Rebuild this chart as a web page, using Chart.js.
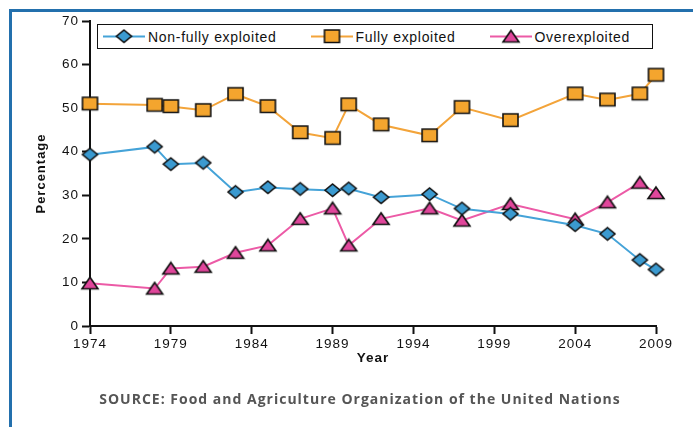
<!DOCTYPE html>
<html>
<head>
<meta charset="utf-8">
<script src="https://cdn.jsdelivr.net/npm/chart.js@4/dist/chart.umd.min.js"></script>
<style>
  html, body { margin: 0; padding: 0; background: #fff; }
  #marco { position: relative; width: 693px; height: 427px; overflow: hidden; }
  #marco::before {
    content: ""; position: absolute; left: 9px; top: 9px; right: -10px; bottom: -10px;
    border-top: 3px solid #2370ad; border-left: 3px solid #2370ad;
  }
  #grafico { position: absolute; left: 0; top: 0; }
  #leyenda {
    position: absolute; left: 97px; top: 24px; width: 556px; height: 25px;
    box-sizing: border-box; border: 1.5px solid #111; background: #fff;
    display: flex; align-items: center; justify-content: space-between;
    padding: 0 22px 0 5px;
    font-family: "Liberation Sans", Arial, sans-serif; font-size: 14px;
    letter-spacing: 0.7px; color: #111;
  }
  .item { display: flex; align-items: center; gap: 3px; white-space: nowrap; }
  #fuente {
    position: absolute; left: 0; width: 720px; top: 389px; text-align: center;
    font-family: "Open Sans", sans-serif; font-weight: bold; font-size: 14px;
    letter-spacing: 1px; color: #555;
  }
</style>
</head>
<body>
<div id="marco">
  <canvas id="grafico" width="693" height="427"></canvas>
  <div id="leyenda"></div>
  <div id="fuente">SOURCE: Food and Agriculture Organization of the United Nations</div>
</div>
<script>
// Datos
const anios = [1974, 1978, 1979, 1981, 1983, 1985, 1987, 1989, 1990, 1992, 1995, 1997, 2000, 2004, 2006, 2008, 2009];
const noPlenamente = [39.3, 41.1, 37.1, 37.4, 30.7, 31.8, 31.4, 31.1, 31.5, 29.5, 30.2, 26.9, 25.7, 23.1, 21.1, 15.1, 12.9];
const plenamente = [51.0, 50.7, 50.4, 49.5, 53.2, 50.4, 44.4, 43.1, 50.8, 46.2, 43.7, 50.2, 47.2, 53.3, 51.9, 53.3, 57.6];
const sobreexplotado = [9.8, 8.6, 13.2, 13.6, 16.8, 18.5, 24.6, 27.0, 18.5, 24.6, 27.0, 24.2, 28.0, 24.5, 28.4, 32.9, 30.5];
const nombresSeries = ["Non-fully exploited", "Fully exploited", "Overexploited"];
const ticksX = [1974, 1979, 1984, 1989, 1994, 1999, 2004, 2009];

document.addEventListener("DOMContentLoaded", () => {
  const tinta = "#111";

  // Los marcadores del original son algo más anchos que altos
  const estilos = [
    { linea: "#45a3d8", relleno: "#3b9ad0", forma: "rombo", ancho: 15, alto: 12.5 },
    { linea: "#f3a43a", relleno: "#f4a52e", forma: "cuadro", ancho: 15, alto: 12.5 },
    { linea: "#ec5aa6", relleno: "#e0469b", forma: "triangulo", ancho: 16, alto: 11.5 }
  ];

  function trazarForma(ctx, forma, x0, y0, w, h) {
    ctx.beginPath();
    if (forma === "rombo") {
      ctx.moveTo(x0 + w / 2, y0);
      ctx.lineTo(x0 + w, y0 + h / 2);
      ctx.lineTo(x0 + w / 2, y0 + h);
      ctx.lineTo(x0, y0 + h / 2);
    } else if (forma === "cuadro") {
      ctx.rect(x0, y0, w, h);
    } else {
      ctx.moveTo(x0 + w / 2, y0);
      ctx.lineTo(x0 + w, y0 + h);
      ctx.lineTo(x0, y0 + h);
    }
    ctx.closePath();
  }

  function crearMarcador(est) {
    const m = 2;
    const c = document.createElement("canvas");
    c.width = Math.ceil(est.ancho + m * 2);
    c.height = Math.ceil(est.alto + m * 2);
    const ctx = c.getContext("2d");
    trazarForma(ctx, est.forma, m, m, est.ancho, est.alto);
    ctx.fillStyle = est.relleno;
    ctx.fill();
    ctx.lineWidth = 1.6;
    ctx.strokeStyle = tinta;
    ctx.lineJoin = "miter";
    ctx.stroke();
    return c;
  }

  const valores = [noPlenamente, plenamente, sobreexplotado];

  const datasets = valores.map((serie, i) => ({
    label: nombresSeries[i],
    data: serie.map((v, j) => ({ x: anios[j], y: v })),
    borderColor: estilos[i].linea,
    borderWidth: 2,
    pointStyle: crearMarcador(estilos[i]),
    pointRadius: 8,
    pointHoverRadius: 8,
    clip: false,
    tension: 0
  }));

  // Espaciado de letras en el canvas (la fuente original es más ancha)
  const espaciado = {
    id: "espaciado",
    beforeInit(chart) { chart.ctx.letterSpacing = "1px"; },
    beforeDraw(chart) { chart.ctx.letterSpacing = "1px"; }
  };

  new Chart(document.getElementById("grafico"), {
    type: "line",
    data: { datasets },
    options: {
      responsive: false,
      devicePixelRatio: 1,
      animation: false,
      events: [],
      layout: { padding: { left: 10, right: 37, top: 21, bottom: 51 } },
      plugins: { legend: { display: false }, tooltip: { enabled: false } },
      scales: {
        x: {
          type: "linear",
          min: 1974,
          max: 2009,
          afterBuildTicks: (s) => { s.ticks = ticksX.map(v => ({ value: v })); },
          afterFit: (s) => { s.height = 50; },
          ticks: {
            callback: (v) => String(v),
            color: tinta,
            padding: 2,
            maxRotation: 0,
            font: { family: "Liberation Sans", size: 13.5 }
          },
          grid: { drawOnChartArea: false, drawTicks: true, tickLength: 8, tickColor: tinta, tickWidth: 2 },
          border: { color: tinta, width: 2 },
          title: {
            display: true,
            text: "Year",
            color: tinta,
            padding: { top: 0, bottom: 10 },
            font: { family: "Liberation Sans", size: 13.5, weight: "bold" }
          }
        },
        y: {
          min: 0,
          max: 70,
          afterFit: (s) => { s.width = 80; },
          ticks: {
            stepSize: 10,
            color: tinta,
            padding: 3,
            font: { family: "Liberation Sans", size: 13.5 }
          },
          grid: { drawOnChartArea: false, drawTicks: true, tickLength: 8, tickColor: tinta, tickWidth: 2 },
          border: { color: tinta, width: 2 },
          title: {
            display: true,
            text: "Percentage",
            color: tinta,
            padding: { top: 24, bottom: 0 },
            font: { family: "Liberation Sans", size: 13, weight: "bold" }
          }
        }
      }
    },
    plugins: [espaciado]
  });

  // Leyenda en HTML con línea y el mismo marcador
  const leyenda = document.getElementById("leyenda");
  nombresSeries.forEach((nombre, i) => {
    const item = document.createElement("div");
    item.className = "item";

    const icono = document.createElement("canvas");
    icono.width = 42;
    icono.height = 23;
    const ctx = icono.getContext("2d");
    ctx.strokeStyle = estilos[i].linea;
    ctx.lineWidth = 2;
    ctx.beginPath();
    ctx.moveTo(0, 11.5);
    ctx.lineTo(42, 11.5);
    ctx.stroke();
    const marcador = crearMarcador(estilos[i]);
    ctx.drawImage(marcador, 21 - marcador.width / 2, 11.5 - marcador.height / 2);

    const texto = document.createElement("span");
    texto.textContent = nombre;

    item.appendChild(icono);
    item.appendChild(texto);
    leyenda.appendChild(item);
  });
});
</script>
</body>
</html>
